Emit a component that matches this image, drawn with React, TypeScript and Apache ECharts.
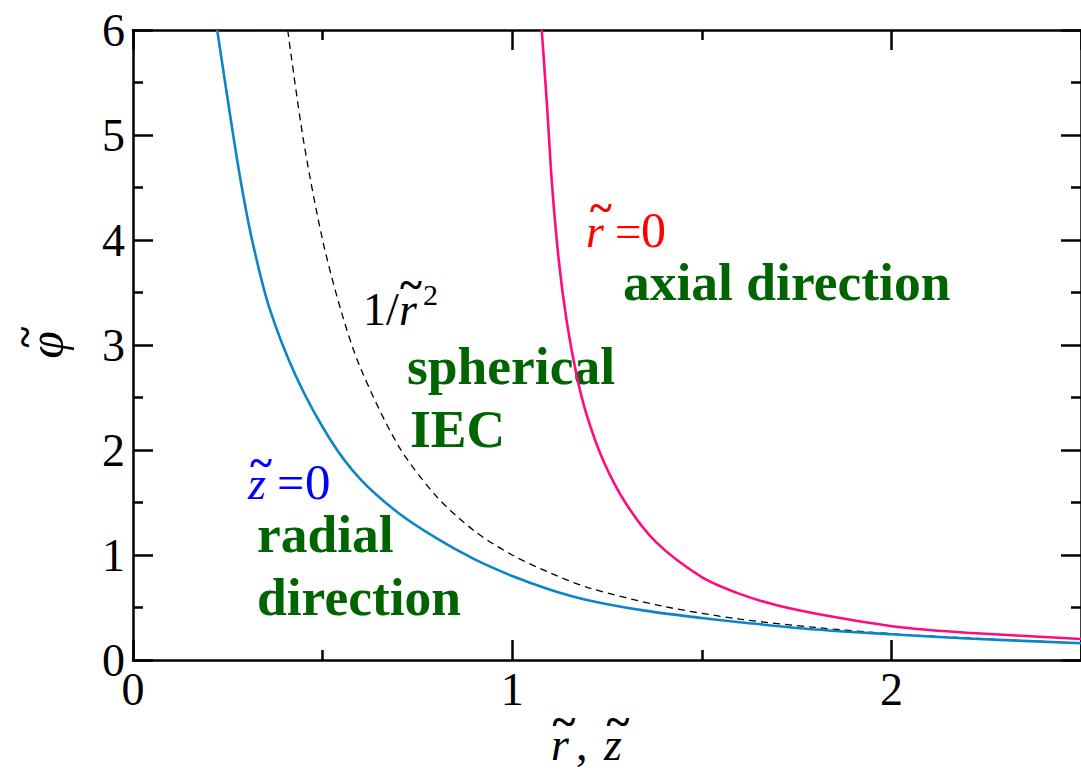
import React, { useEffect, useRef } from "react";
import * as echarts from "echarts";

// z~=0 (radial direction)
const radialR = [0.222, 0.262, 0.288, 0.314, 0.359, 0.43, 0.52, 0.6, 0.7, 0.8, 0.9, 1.0, 1.1, 1.2, 1.35, 1.5, 1.6, 1.8, 2.0, 2.2, 2.5];
const radialPhi = [6.0, 5.05, 4.48, 4.0, 3.36, 2.7, 2.1, 1.72, 1.4, 1.16, 0.96, 0.8, 0.67, 0.57, 0.47, 0.4, 0.36, 0.29, 0.245, 0.205, 0.16];

// r~=0 (axial direction)
const axialZ = [1.078, 1.092, 1.105, 1.123, 1.144, 1.17, 1.196, 1.24, 1.3, 1.38, 1.5, 1.6, 1.7, 1.85, 2.03, 2.2, 2.5];
const axialPhi = [6.0, 5.27, 4.53, 3.8, 3.22, 2.71, 2.34, 1.9, 1.49, 1.12, 0.79, 0.63, 0.52, 0.41, 0.31, 0.26, 0.2];

// 1/r~^2 reference (dashed)
const sphR = [0.408, 0.45, 0.5, 0.55, 0.6, 0.7, 0.8, 0.9, 1.0, 1.1, 1.2, 1.4, 1.6, 1.8, 2.0, 2.2, 2.5];
const sphPhi = [6.0, 4.94, 4.0, 3.31, 2.78, 2.04, 1.56, 1.23, 1.0, 0.83, 0.69, 0.51, 0.39, 0.31, 0.25, 0.21, 0.16];

const xTickValues = [0, 1, 2];
const xTickLabels = ["0", "1", "2"];
const yTickValues = [0, 1, 2, 3, 4, 5, 6];
const yTickLabels = ["0", "1", "2", "3", "4", "5", "6"];

const SERIF = "'Liberation Serif', 'Times New Roman', serif";
const GREEN = "#006400";

// text helper: position by baseline (approximate, using middle alignment)
const txt = (
  text: string,
  x: number,
  baseline: number,
  size: number,
  fill: string,
  opts: { italic?: boolean; bold?: boolean; align?: string } = {}
) => ({
  type: "text",
  x,
  y: baseline - 0.34 * size,
  style: {
    text,
    fill,
    font: `${opts.italic ? "italic " : ""}${opts.bold ? "bold " : ""}${size}px ${SERIF}`,
    align: opts.align || "left",
    verticalAlign: "middle",
  },
});

// tilde accent helper: cx = visual centre x, cy = visual centre y
const tilde = (cx: number, cy: number, size: number, fill: string) => ({
  type: "text",
  x: cx,
  y: cy - 0.07 * size,
  style: {
    text: "~",
    fill,
    font: `bold ${size}px ${SERIF}`,
    align: "center",
    verticalAlign: "middle",
  },
});

export default function App() {
  const ref = useRef<HTMLDivElement>(null);

  useEffect(() => {
    const chart = echarts.init(ref.current!, null, { renderer: "svg" });
    const pairs = (xs: number[], ys: number[]) => xs.map((x, i) => [x, ys[i]]);

    const lineBlack = { color: "#000", width: 2.5 };
    const tickCfg = { show: true, inside: true, length: 20, lineStyle: lineBlack };
    const minorCfg = { show: true, splitNumber: 2, length: 10, lineStyle: lineBlack };
    const xBase = {
      type: "value",
      min: 0,
      max: 2.5,
      interval: 1,
      splitLine: { show: false },
      minorSplitLine: { show: false },
      axisLine: { show: true, onZero: false, lineStyle: lineBlack },
      axisTick: tickCfg,
      minorTick: minorCfg,
    };
    const yBase = {
      type: "value",
      min: 0,
      max: 6,
      interval: 1,
      splitLine: { show: false },
      minorSplitLine: { show: false },
      axisLine: { show: true, onZero: false, lineStyle: lineBlack },
      axisTick: tickCfg,
      minorTick: minorCfg,
    };

    chart.setOption({
      animation: false,
      backgroundColor: "#fff",
      grid: { left: 133, top: 30, width: 955, height: 630, show: false },
      xAxis: [
        {
          ...xBase,
          position: "bottom",
          axisLabel: {
            show: true,
            margin: 6,
            fontFamily: SERIF,
            fontSize: 46,
            color: "#000",
            showMaxLabel: false,
            formatter: (v: number) => {
              const i = xTickValues.indexOf(v);
              return i >= 0 ? xTickLabels[i] : "";
            },
          },
        },
        { ...xBase, position: "top", axisLabel: { show: false } },
      ],
      yAxis: [
        {
          ...yBase,
          position: "left",
          axisLabel: {
            show: true,
            margin: 8,
            fontFamily: SERIF,
            fontSize: 46,
            color: "#000",
            formatter: (v: number) => {
              const i = yTickValues.indexOf(v);
              return i >= 0 ? yTickLabels[i] : "";
            },
          },
        },
        { ...yBase, position: "right", axisLabel: { show: false } },
      ],
      series: [
        {
          name: "1/r~^2",
          type: "line",
          xAxisIndex: 0,
          yAxisIndex: 0,
          data: pairs(sphR, sphPhi),
          showSymbol: false,
          smooth: 0.3,
          lineStyle: { color: "#000", width: 1.3, type: [7, 5] },
          z: 2,
        },
        {
          name: "z~=0",
          type: "line",
          xAxisIndex: 0,
          yAxisIndex: 0,
          data: pairs(radialR, radialPhi),
          showSymbol: false,
          smooth: 0.3,
          lineStyle: { color: "#0a86c8", width: 2.6 },
          z: 3,
        },
        {
          name: "r~=0",
          type: "line",
          xAxisIndex: 0,
          yAxisIndex: 0,
          data: pairs(axialZ, axialPhi),
          showSymbol: false,
          smooth: 0.3,
          lineStyle: { color: "#ff0a80", width: 2.6 },
          z: 3,
        },
      ],
      graphic: [
        // x-axis title  r~, z~
        txt("r", 551, 760, 46, "#000", { italic: true }),
        txt(",", 576, 760, 46, "#000"),
        txt("z", 604, 760, 46, "#000", { italic: true }),
        tilde(564, 725, 44, "#000"),
        tilde(618, 725, 44, "#000"),
        // y-axis title  phi~ (rotated)
        {
          type: "group",
          x: 46,
          y: 345,
          rotation: Math.PI / 2,
          children: [
            {
              type: "text",
              x: 0,
              y: 0,
              style: {
                text: "\u03c6",
                fill: "#000",
                font: `italic 50px ${SERIF}`,
                align: "center",
                verticalAlign: "middle",
              },
            },
            {
              type: "text",
              x: 8,
              y: -22,
              style: {
                text: "~",
                fill: "#000",
                font: `bold 40px ${SERIF}`,
                align: "center",
                verticalAlign: "middle",
              },
            },
          ],
        },
        // 1/r~^2
        txt("1/", 363, 325, 46, "#000"),
        txt("r", 399, 325, 46, "#000", { italic: true }),
        tilde(411, 288, 42, "#000"),
        txt("2", 423, 305, 30, "#000"),
        // r~=0 (red)
        txt("r", 586, 247, 46, "#ff0000", { italic: true }),
        tilde(601, 211, 42, "#ff0000"),
        txt("=", 615, 247, 47, "#ff0000"),
        txt("0", 641, 247, 50, "#ff0000"),
        // z~=0 (blue)
        txt("z", 248, 499, 46, "#0000ff", { italic: true }),
        tilde(261, 466, 42, "#0000ff"),
        txt("=", 277, 499, 48, "#0000ff"),
        txt("0", 305, 499, 51, "#0000ff"),
        // green labels
        txt("axial direction", 623, 300, 53.5, GREEN, { bold: true }),
        txt("spherical", 407, 384, 53.5, GREEN, { bold: true }),
        txt("IEC", 410, 447, 53.5, GREEN, { bold: true }),
        txt("radial", 257, 552, 53.5, GREEN, { bold: true }),
        txt("direction", 257, 615, 53.5, GREEN, { bold: true }),
      ],
    });

    return () => chart.dispose();
  }, []);

  return (
    <div
      ref={ref}
      style={{ position: "absolute", left: 0, top: 0, width: 1081, height: 772 }}
    />
  );
}
